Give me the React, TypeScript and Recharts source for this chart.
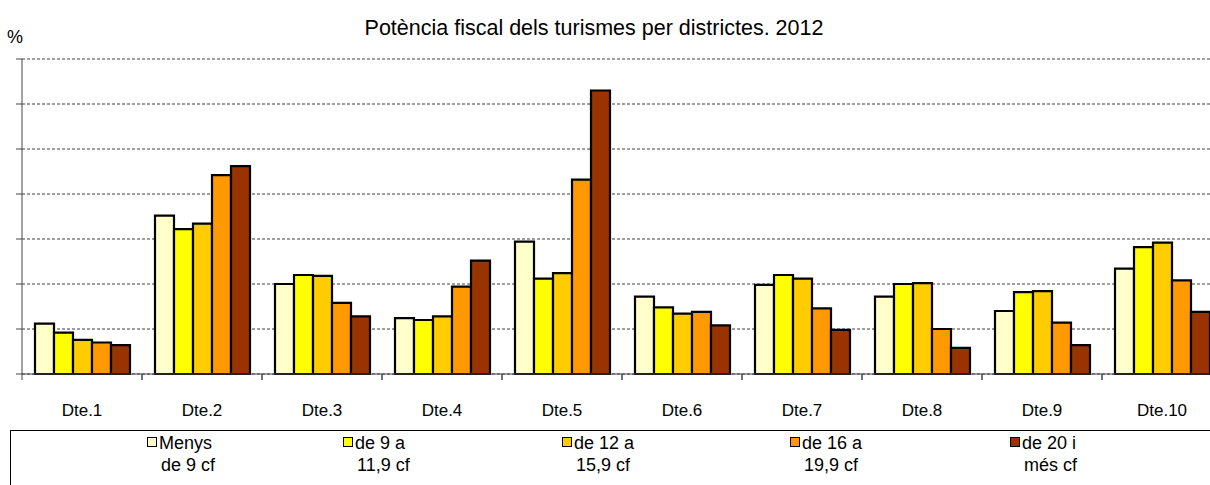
import { BarChart, Bar, XAxis, YAxis, CartesianGrid } from 'recharts';

const districts = ['Dte.1', 'Dte.2', 'Dte.3', 'Dte.4', 'Dte.5', 'Dte.6', 'Dte.7', 'Dte.8', 'Dte.9', 'Dte.10'];

const menys9 = [5.6, 17.6, 10.0, 6.2, 14.7, 8.6, 9.9, 8.6, 7.0, 11.7];
const de9a119 = [4.6, 16.1, 11.0, 6.0, 10.6, 7.4, 11.0, 10.0, 9.1, 14.1];
const de12a159 = [3.8, 16.7, 10.9, 6.4, 11.2, 6.7, 10.6, 10.1, 9.2, 14.6];
const de16a199 = [3.5, 22.1, 7.9, 9.7, 21.6, 6.9, 7.3, 5.0, 5.7, 10.4];
const de20mes = [3.2, 23.1, 6.4, 12.6, 31.5, 5.4, 4.9, 2.9, 3.2, 6.9];

const yTicks = [0, 5, 10, 15, 20, 25, 30, 35];

const series = [
  { key: 's1', line1: 'Menys', line2: 'de 9 cf', values: menys9, color: '#FFFFCC' },
  { key: 's2', line1: 'de 9 a', line2: '11,9 cf', values: de9a119, color: '#FFFF00' },
  { key: 's3', line1: 'de 12 a', line2: '15,9 cf', values: de12a159, color: '#FFCC00' },
  { key: 's4', line1: 'de 16 a', line2: '19,9 cf', values: de16a199, color: '#FF9900' },
  { key: 's5', line1: 'de 20 i', line2: 'més cf', values: de20mes, color: '#993300' },
];

const data = districts.map((d, i) => {
  const row: Record<string, string | number> = { name: d };
  series.forEach((s) => {
    row[s.key] = s.values[i];
  });
  return row;
});

const FONT = '"Liberation Sans", Arial, sans-serif';
const legendX = [147, 343, 562, 790, 1010];

function DistrictTick(props: any) {
  const { x, y, payload } = props;
  return (
    <g>
      <line x1={x - 60} y1={y - 2} x2={x - 60} y2={y + 4} stroke="#444" />
      <line x1={x + 60} y1={y - 2} x2={x + 60} y2={y + 4} stroke="#444" />
      <text x={x} y={y + 40} textAnchor="middle" fontSize={17} fill="#000" fontFamily={FONT}>
        {payload.value}
      </text>
    </g>
  );
}

export default function App() {
  return (
    <div
      style={{
        position: 'absolute',
        left: 0,
        top: 0,
        width: 1210,
        height: 485,
        overflow: 'hidden',
        background: '#fff',
        fontFamily: FONT,
      }}
    >
      <svg width={1210} height={60} style={{ position: 'absolute', left: 0, top: 0 }}>
        <text x={594} y={35} textAnchor="middle" fontSize={21.5} fontFamily={FONT} fill="#000">
          Potència fiscal dels turismes per districtes. 2012
        </text>
        <text x={7} y={43} fontSize={18} fontFamily={FONT} fill="#000">
          %
        </text>
      </svg>
      <div style={{ position: 'absolute', left: 0, top: 0 }}>
        <BarChart
          width={1222}
          height={485}
          data={data}
          margin={{ top: 59, right: 0, left: 16, bottom: 81 }}
          barCategoryGap={13}
          barGap={0}
        >
          <CartesianGrid vertical={false} stroke="#808080" strokeDasharray="3 2" strokeWidth={1.5} />
          <YAxis
            width={6}
            domain={[0, 35]}
            ticks={yTicks}
            tickFormatter={() => ''}
            tickSize={6}
            axisLine={{ stroke: '#444' }}
            tickLine={{ stroke: '#444' }}
          />
          <XAxis
            dataKey="name"
            height={30}
            tickLine={false}
            tickSize={0}
            axisLine={{ stroke: '#444' }}
            tick={<DistrictTick />}
            interval={0}
          />
          {series.map((s) => (
            <Bar key={s.key} dataKey={s.key} fill={s.color} stroke="#000" strokeWidth={2.2} isAnimationActive={false} />
          ))}
        </BarChart>
      </div>
      <div
        style={{
          position: 'absolute',
          left: 10,
          top: 430,
          width: 1220,
          height: 80,
          border: '1.5px solid #000',
          boxSizing: 'border-box',
        }}
      >
        {series.map((s, i) => (
          <div
            key={s.key}
            style={{ position: 'absolute', left: legendX[i] - 11, top: 1, fontSize: 18, lineHeight: '22px' }}
          >
            <span
              style={{
                display: 'inline-block',
                width: 8,
                height: 8,
                background: s.color,
                border: '1.5px solid #000',
                marginRight: 2,
                verticalAlign: 'middle',
                position: 'relative',
                top: -2,
              }}
            />
            {s.line1}
            <div style={{ paddingLeft: 14 }}>{s.line2}</div>
          </div>
        ))}
      </div>
    </div>
  );
}
